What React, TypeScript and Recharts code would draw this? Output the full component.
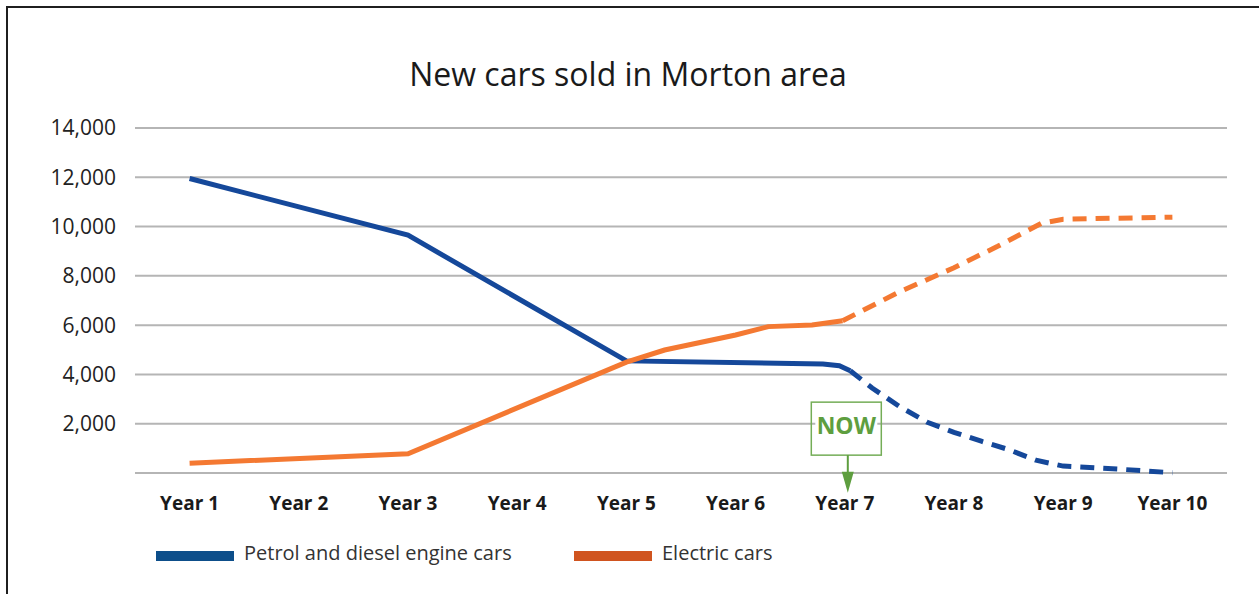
import React from 'react';
import { LineChart, Line, XAxis, YAxis, CartesianGrid, ReferenceDot } from 'recharts';

// tick labels
const yearTicks = [1, 2, 3, 4, 5, 6, 7, 8, 9, 10];
const salesTicks = [0, 2000, 4000, 6000, 8000, 10000, 12000, 14000];

// petrol and diesel: sold so far, then forecast (dashed)
const petrolActualYears = [1, 3, 5, 6.8, 6.95, 7.05];
const petrolActualSales = [11950, 9650, 4550, 4420, 4350, 4150];
const petrolForecastYears = [7.05, 7.25, 7.5, 7.75, 8, 8.25, 8.5, 8.75, 9, 9.5, 10];
const petrolForecastSales = [4150, 3450, 2700, 2070, 1650, 1290, 950, 520, 280, 160, 10];

// electric: sold so far, then forecast (dashed)
const electricActualYears = [1, 3, 5, 5.35, 6, 6.3, 6.7, 6.98];
const electricActualSales = [400, 780, 4500, 4990, 5600, 5940, 6010, 6180];
const electricForecastYears = [6.98, 7.5, 8, 8.4, 8.8, 9, 10];
const electricForecastSales = [6180, 7350, 8330, 9200, 10130, 10300, 10380];

const zip = (xs: number[], ys: number[]) => xs.map((t, i) => ({ t, v: ys[i] }));

const legendItems = [
  { label: 'Petrol and diesel engine cars', color: '#0d4e8a' },
  { label: 'Electric cars', color: '#d0541f' },
];

const BLUE = '#15489a';
const ORANGE = '#f47932';
const FONT = '"Open Sans", sans-serif';

const NowMarker = (props: any) => {
  const { cx, cy } = props;
  if (cx == null || cy == null) return null;
  const bx = cx + 1.5;
  const ax = cx + 3;
  return (
    <g>
      <rect x={bx - 35} y={cy - 26.5} width={70} height={53} fill="none" stroke="#74ad57" strokeWidth={1.5} />
      <rect x={bx - 31} y={cy - 14} width={62} height={24} fill="#fff" />
      <text x={bx} y={cy + 5} textAnchor="middle" fontFamily={FONT} fontWeight={700} fontSize={23} fill="#5e9e3f">
        NOW
      </text>
      <line x1={ax} y1={cy + 26.5} x2={ax} y2={cy + 45} stroke="#5e9e3f" strokeWidth={2} />
      <path d={`M${ax - 6},${cy + 43} L${ax + 6},${cy + 43} L${ax},${cy + 64} Z`} fill="#5e9e3f" />
    </g>
  );
};

export default function App() {
  return (
    <div style={{ position: 'absolute', left: 0, top: 0, width: 1259, height: 594, background: '#fff', overflow: 'hidden' }}>
      <div
        style={{
          position: 'absolute', left: 6, top: 6, right: 0, bottom: 0,
          borderLeft: '2.5px solid #1f1f1f', borderTop: '2.5px solid #1f1f1f',
        }}
      />
      <div
        style={{
          position: 'absolute', left: 0, top: 58, width: 1256, textAlign: 'center',
          fontFamily: FONT, fontSize: 32, lineHeight: '32px', color: '#1a1a1a',
        }}
      >
        New cars sold in Morton area
      </div>

      <div style={{ position: 'absolute', left: 0, top: 0 }}>
        <LineChart width={1259} height={594} margin={{ top: 128, right: 32, left: 0, bottom: 81 }}>
          <CartesianGrid vertical={false} stroke="#b5b5b5" strokeWidth={2} />
          <XAxis
            dataKey="t"
            type="number"
            domain={[0.5, 10.5]}
            ticks={yearTicks}
            tickFormatter={(v) => `Year ${v}`}
            axisLine={false}
            tickLine={false}
            tickMargin={18}
            height={40}
            tick={{ fontFamily: FONT, fontSize: 19, fontWeight: 700, fill: '#1a1a1a' }}
          />
          <YAxis
            type="number"
            domain={[0, 14000]}
            ticks={salesTicks}
            tickFormatter={(v) => (v === 0 ? '' : v.toLocaleString('en-US'))}
            axisLine={false}
            tickLine={false}
            tickMargin={13}
            width={135}
            tick={{ fontFamily: FONT, fontSize: 21, fill: '#222' }}
          />
          <Line data={zip(petrolActualYears, petrolActualSales)} dataKey="v" stroke={BLUE} strokeWidth={5} dot={false} isAnimationActive={false} />
          <Line data={zip(petrolForecastYears, petrolForecastSales)} dataKey="v" stroke={BLUE} strokeWidth={5} strokeDasharray="14 9" dot={false} isAnimationActive={false} />
          <Line data={zip(electricActualYears, electricActualSales)} dataKey="v" stroke={ORANGE} strokeWidth={5} dot={false} isAnimationActive={false} />
          <Line data={zip(electricForecastYears, electricForecastSales)} dataKey="v" stroke={ORANGE} strokeWidth={5} strokeDasharray="14 9" dot={false} isAnimationActive={false} />
          <ReferenceDot x={7} y={1800} shape={NowMarker} />
        </LineChart>
      </div>

      {legendItems.map((item, i) => (
        <div key={item.label} style={{ position: 'absolute', left: i === 0 ? 156 : 574, top: 543, display: 'flex', alignItems: 'flex-start' }}>
          <div style={{ width: 78, height: 10, marginTop: 8, background: item.color }} />
          <div style={{ marginLeft: 10, fontFamily: FONT, fontSize: 20, lineHeight: '20px', color: '#333' }}>{item.label}</div>
        </div>
      ))}
    </div>
  );
}
